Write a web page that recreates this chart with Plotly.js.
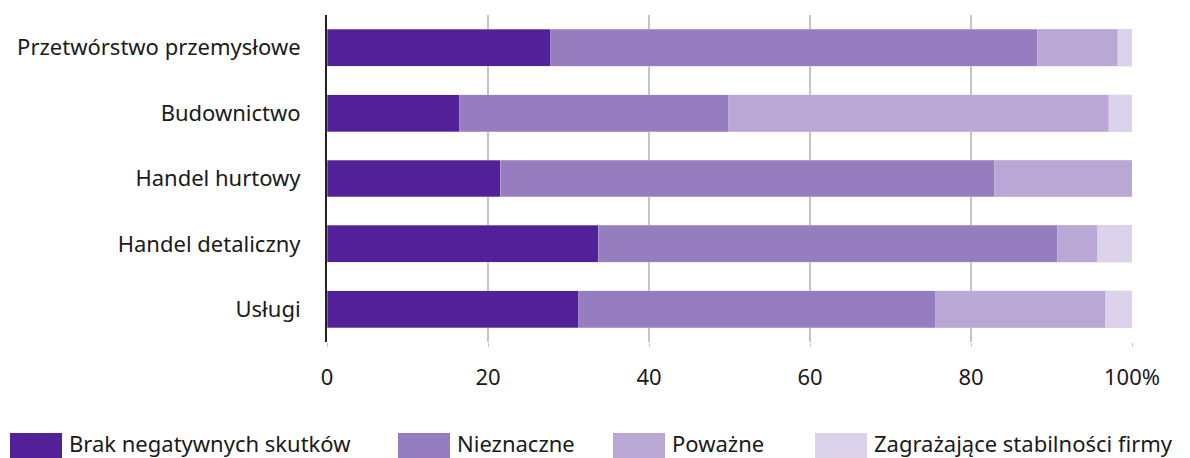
<!DOCTYPE html>
<html><head><meta charset="utf-8">
<script src="https://cdn.plot.ly/plotly-3.0.1.min.js"></script>
<style>body{margin:0;background:#fff}#chart{width:1190px;height:458px}</style>
</head><body><div id="chart"></div>
<script>
const categories = ["Przetwórstwo przemysłowe","Budownictwo","Handel hurtowy","Handel detaliczny","Usługi"];
const seriesNames = ["Brak negatywnych skutków","Nieznaczne","Poważne","Zagrażające stabilności firmy"];
const brak = [27.8, 16.5, 21.5, 33.7, 31.3];
const nieznaczne = [60.4, 33.4, 61.4, 57.0, 44.3];
const powazne = [10.0, 47.2, 17.1, 5.0, 21.1];
const zagrazajace = [1.8, 2.9, 0.0, 4.3, 3.3];
const tickVals = [0, 20, 40, 60, 80, 100];
const tickText = ["0","20","40","60","80","100%"];
const colors = ["#52219a","#967dc0","#b9a7d6","#dcd2ea"];

const seriesValues = [brak, nieznaczne, powazne, zagrazajace];
const FONT = "Noto Sans, sans-serif";
const FS = 22;
const TXT = "#1a1a1a";
const traces = seriesValues.map((vals, i) => ({
  type: "bar", orientation: "h", name: seriesNames[i],
  x: vals, y: categories, width: 0.565,
  marker: {color: colors[i], line: {color: "rgba(220,210,234,0.6)", width: 0.6}},
  showlegend: false, hoverinfo: "x+name"
}));

// custom legend (larger swatches)
const legendX = [10, 398, 613, 815];
const shapes = [], annotations = [];
seriesNames.forEach((n, i) => {
  shapes.push({type: "rect", xref: "paper", yref: "paper",
    x0: (legendX[i] - 327) / 805, x1: (legendX[i] + 52 - 327) / 805,
    y0: (342 - 458) / 327, y1: (342 - 433) / 327,
    fillcolor: colors[i], line: {width: 0}});
  annotations.push({xref: "paper", yref: "paper", x: (legendX[i] + 57 - 327) / 805,
    y: (342 - 443) / 327, xanchor: "left", yanchor: "middle", showarrow: false,
    text: n, font: {family: FONT, size: FS, color: TXT}});
});

const layout = {
  width: 1190, height: 458,
  margin: {l: 327, r: 58, t: 15, b: 116},
  barmode: "stack", bargap: 0.435,
  paper_bgcolor: "#fff", plot_bgcolor: "#fff",
  font: {family: FONT, size: FS, color: TXT},
  xaxis: {range: [0, 100], tickvals: tickVals, ticktext: tickText,
    showgrid: true, gridcolor: "#c4c4c4", gridwidth: 1.5, zeroline: false,
    ticks: "outside", ticklen: 4, tickcolor: "#c4c4c4", ticklabelstandoff: 12,
    tickfont: {family: FONT, size: FS, color: TXT}, fixedrange: true},
  yaxis: {categoryorder: "array", categoryarray: categories, autorange: "reversed",
    showline: true, linecolor: "#222", linewidth: 2, ticks: "", ticklabelstandoff: 20,
    tickfont: {family: FONT, size: FS, color: TXT}, fixedrange: true},
  shapes: shapes, annotations: annotations, showlegend: false
};
Plotly.newPlot("chart", traces, layout, {displayModeBar: false, staticPlot: true});
</script></body></html>
